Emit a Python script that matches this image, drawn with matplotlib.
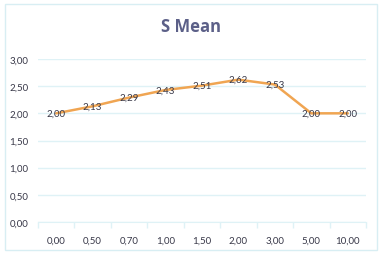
import matplotlib.pyplot as plt
from matplotlib.patches import Rectangle

categories = ['0,00', '0,50', '0,70', '1,00', '1,50', '2,00', '3,00', '5,00', '10,00']
values = [2.00, 2.13, 2.29, 2.43, 2.51, 2.62, 2.53, 2.00, 2.00]
yticks = [0.0, 0.5, 1.0, 1.5, 2.0, 2.5, 3.0]

grid_col = '#dff2f6'
text_col = '#383848'
line_col = '#f0a552'
fnt = 'Lato'

def comma(v):
    return ('%.2f' % v).replace('.', ',')

fig = plt.figure(figsize=(3.82, 2.55), dpi=100)
fig.patch.set_facecolor('white')
fig.patches.append(Rectangle((5 / 382, 4 / 255), 372 / 382, 246 / 255, transform=fig.transFigure,
                             fill=False, edgecolor='#d8eef3', linewidth=1))

ax = fig.add_axes([38 / 382, 1 - 223 / 255, 328 / 382, 163 / 255])
x = list(range(len(categories)))
ax.plot(x, values, color=line_col, linewidth=1.8, solid_capstyle='round')
for xi, v in zip(x, values):
    ax.text(xi, v, comma(v), ha='center', va='center', fontsize=7, color=text_col,
            family=fnt)

ax.set_xlim(-0.5, len(categories) - 0.5)
ax.set_ylim(0, 3)
ax.set_yticks(yticks)
ax.set_yticklabels([comma(t) for t in yticks], fontsize=7, color=text_col, family=fnt)
ax.set_xticks(x)
ax.set_xticklabels(categories, fontsize=7, color=text_col, family=fnt)
ax.set_xticks([i - 0.5 for i in range(len(categories) + 1)], minor=True)
ax.tick_params(axis='y', length=0, pad=7)
ax.tick_params(axis='x', which='major', length=0, pad=10)
ax.tick_params(axis='x', which='minor', length=4, color=grid_col, width=1)
ax.grid(True, axis='y', color=grid_col, linewidth=1)
ax.set_axisbelow(True)
for s in ['top', 'right', 'left']:
    ax.spines[s].set_visible(False)
ax.spines['bottom'].set_color(grid_col)

fig.text(0.5, 1 - 27 / 255, 'S Mean', ha='center', va='center', fontsize=12,
         fontweight='bold', color='#5c6088', family='Open Sans')

plt.savefig('out.png', dpi=100)
